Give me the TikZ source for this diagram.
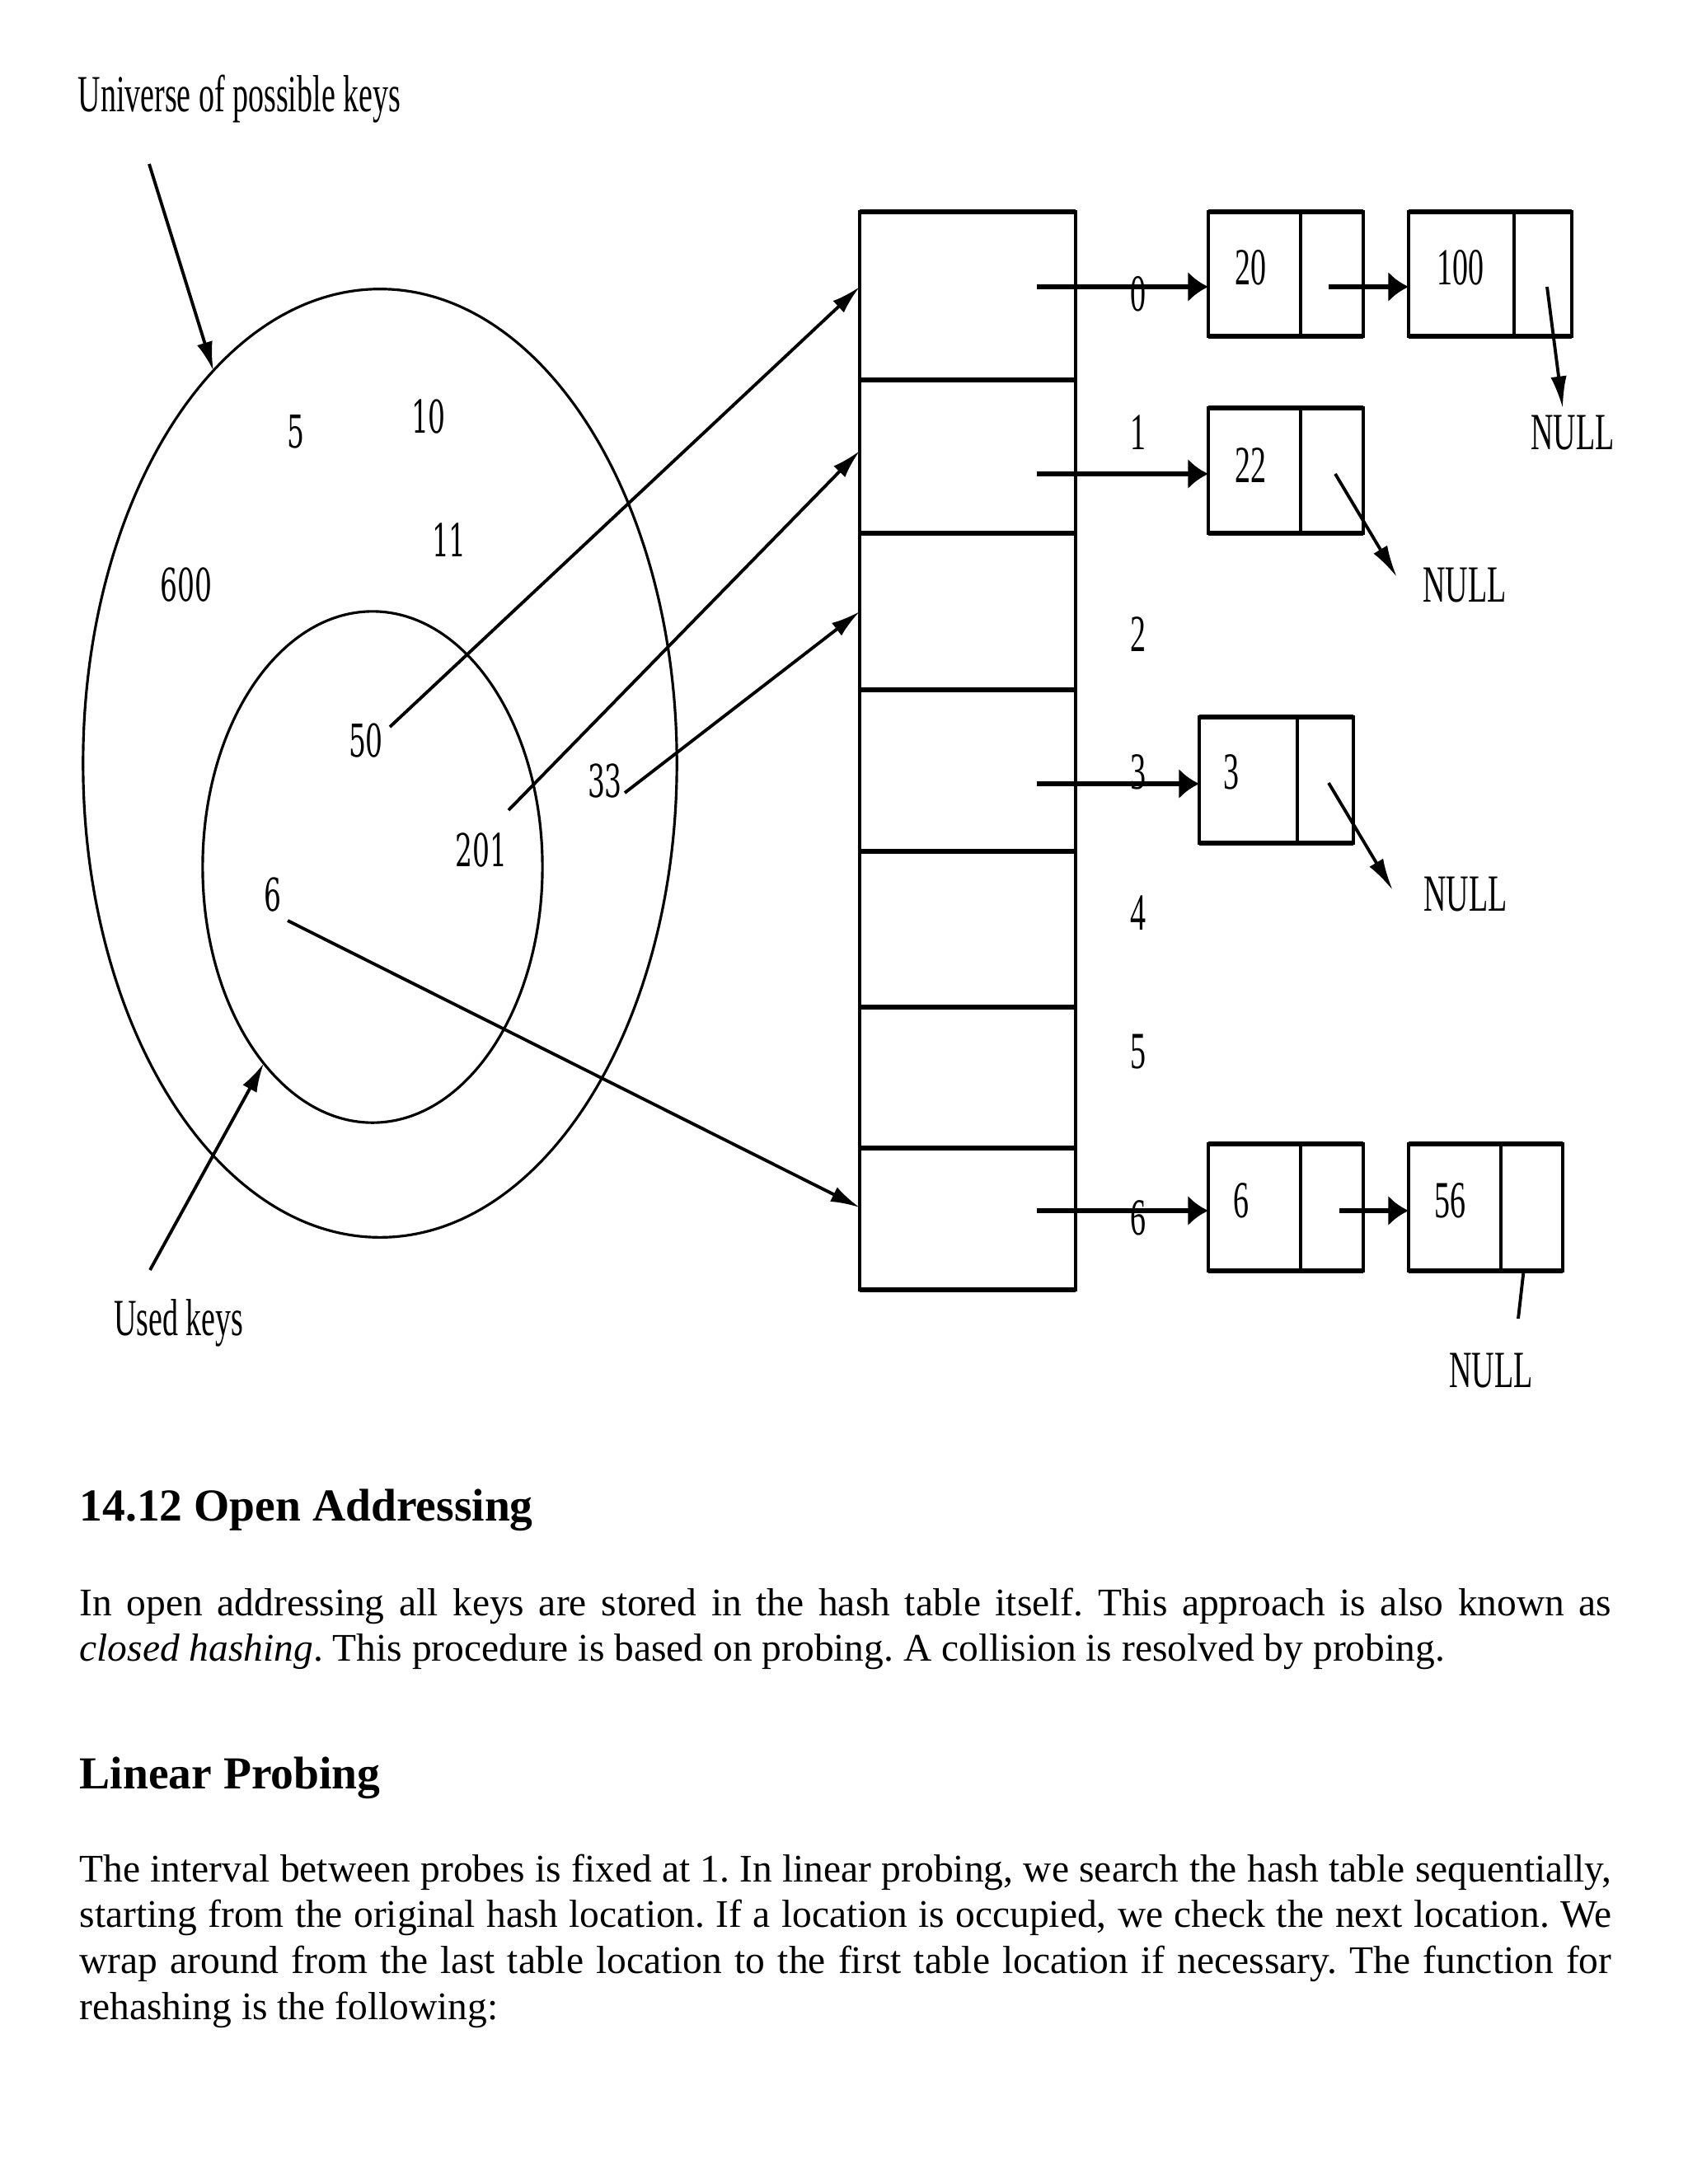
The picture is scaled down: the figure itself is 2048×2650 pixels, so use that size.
\documentclass[tikz,border=0pt]{standalone}
\usepackage{fontspec}
\setmainfont{Liberation Serif}
\newfontfamily\figfont[FakeStretch=0.6]{Liberation Serif}
\newfontfamily\numfont[FakeStretch=0.6]{DejaVu Serif}
\usetikzlibrary{arrows.meta,shapes.geometric,calc}
\frenchspacing
\begin{document}
\begin{tikzpicture}[x=0.01cm,y=-0.01cm,
  figtxt/.style={font=\figfont\fontsize{18}{20}\selectfont, inner sep=0pt},
  keytxt/.style={font=\numfont\fontsize{15.6}{18}\selectfont, inner sep=0pt},
  ring/.style={ellipse, draw, line width=0.9pt, inner sep=0pt, outer sep=0pt},
  cell/.style={rectangle, draw, line width=1pt, inner sep=0pt, outer sep=0pt, anchor=north west},
  hline/.style={line width=1.9pt},
  keyarrow/.style={line width=1.1pt, -{Latex[length=10pt,width=5.5pt]}},
  bigarrow/.style={line width=1.8pt, -{Latex[length=7pt,width=10.5pt]}},
  nullarrow/.style={line width=1.1pt, -{Latex[length=11pt,width=5.5pt]}},
  body/.style={font=\fontsize{13.5}{16}\selectfont, inner sep=0pt, anchor=base west},
  head/.style={font=\bfseries\fontsize{15.8}{19}\selectfont, inner sep=0pt, anchor=base west}
]
\fill[white] (0,0) rectangle (2048,2650);
\useasboundingbox (0,0) rectangle (2048,2650);

% ---- universe of keys ----
\node[figtxt, anchor=base west] (univ) at (94,135) {Universe of possible keys};
\node[ring, minimum width=7.2cm, minimum height=11.5cm] (outer) at (461,926) {};
\node[ring, minimum width=4.12cm, minimum height=6.2cm] (inner) at (452,1052) {};
\coordinate (u0) at (181,199);
\draw[keyarrow] (u0) -- (outer.113);
\node[figtxt] (used) at (217,1605) {Used keys};
\coordinate (w0) at (182,1541);
\draw[keyarrow] (w0) -- (inner.241);

\node[keytxt] (k5)   at (359,524)  {5};
\node[keytxt] (k10)  at (520,506)  {10};
\node[keytxt] (k11)  at (545,655)  {11};
\node[keytxt] (k600) at (226,710)  {600};
\node[keytxt] (k50n) at (444,899)  {50};
\node[keytxt] (k201n) at (584,1032) {201};
\node[keytxt] (k33n) at (734,948)  {33};
\node[keytxt] (k6n)  at (331,1086) {6};

% ---- hash table ----
\node[cell, minimum width=2.62cm, minimum height=2.04cm] (r0) at (1043,257) {};
\node[cell, minimum width=2.62cm, minimum height=1.86cm] (r1) at (1043,461) {};
\node[cell, minimum width=2.62cm, minimum height=1.90cm] (r2) at (1043,647) {};
\node[cell, minimum width=2.62cm, minimum height=1.96cm] (r3) at (1043,837) {};
\node[cell, minimum width=2.62cm, minimum height=1.89cm] (r4) at (1043,1033) {};
\node[cell, minimum width=2.62cm, minimum height=1.71cm] (r5) at (1043,1222) {};
\node[cell, minimum width=2.62cm, minimum height=1.72cm] (r6) at (1043,1393) {};
\foreach \r in {r0,r1,r2,r3,r4,r5,r6}
  \draw[hline] (\r.north west) -- (\r.north east);
\draw[hline] (r6.south west) -- (r6.south east);

% key arrows into table
\coordinate (k50) at (473,882);
\coordinate (k201) at (617,983);
\coordinate (k33) at (758,962);
\coordinate (k6) at (349,1117);
\draw[keyarrow] (k50) -- ($(r0.west)+(0,-11)$);
\draw[keyarrow] (k201) -- ($(r1.west)+(0,-7)$);
\draw[keyarrow] (k33) -- (r2.west);
\draw[keyarrow] (k6) -- ($(r6.west)+(0,-14)$);

% ---- list nodes ----
\node[cell, minimum width=1.12cm, minimum height=1.51cm] (v20) at (1466,257) {};
\node[cell, minimum width=0.76cm, minimum height=1.51cm] (p20) at (v20.north east) {};
\node[cell, minimum width=1.28cm, minimum height=1.51cm] (v100) at (1709,257) {};
\node[cell, minimum width=0.70cm, minimum height=1.51cm] (p100) at (v100.north east) {};
\node[cell, minimum width=1.12cm, minimum height=1.52cm] (v22) at (1466,495) {};
\node[cell, minimum width=0.76cm, minimum height=1.52cm] (p22) at (v22.north east) {};
\node[cell, minimum width=1.19cm, minimum height=1.53cm] (v3) at (1455,870) {};
\node[cell, minimum width=0.68cm, minimum height=1.53cm] (p3) at (v3.north east) {};
\node[cell, minimum width=1.12cm, minimum height=1.54cm] (v6) at (1466,1388) {};
\node[cell, minimum width=0.76cm, minimum height=1.54cm] (p6) at (v6.north east) {};
\node[cell, minimum width=1.12cm, minimum height=1.54cm] (v56) at (1709,1388) {};
\node[cell, minimum width=0.75cm, minimum height=1.54cm] (p56) at (v56.north east) {};
\foreach \a/\b in {v20/p20,v100/p100,v22/p22,v3/p3,v6/p6,v56/p56}{
  \draw[hline] (\a.north west) -- (\b.north east);
  \draw[hline] (\a.south west) -- (\b.south east);
}

\node[figtxt] (t20)  at (1517,325)  {20};
\node[figtxt] (t100) at (1772,325)  {100};
\node[figtxt] (t22)  at (1517,565)  {22};
\node[figtxt] (t3)   at (1494,937)  {3};
\node[figtxt] (t6)   at (1506,1457) {6};
\node[figtxt] (t56)  at (1759,1457) {56};

% index labels
\node[figtxt] (l0) at (1381,357)  {0};
\node[figtxt] (l1) at (1381,525)  {1};
\node[figtxt] (l2) at (1381,770)  {2};
\node[figtxt] (l3) at (1381,937)  {3};
\node[figtxt] (l4) at (1381,1108) {4};
\node[figtxt] (l5) at (1381,1276) {5};
\node[figtxt] (l6) at (1381,1478) {6};

% NULL labels
\node[figtxt] (null0) at (1908,525)  {NULL};
\node[figtxt] (null1) at (1777,710)  {NULL};
\node[figtxt] (null3) at (1778,1085) {NULL};
\node[figtxt] (null6) at (1809,1663) {NULL};

% table -> list arrows
\coordinate (s0) at (1258,348);
\coordinate (s1) at (1258,575);
\coordinate (s3) at (1258,951);
\coordinate (s6) at (1258,1469);
\draw[bigarrow] (s0) -- (s0 -| v20.west);
\draw[bigarrow] (s1) -- (s1 -| v22.west);
\draw[bigarrow] (s3) -- (s3 -| v3.west);
\draw[bigarrow] (s6) -- (s6 -| v6.west);
\coordinate (q20) at (1612,348);
\coordinate (q6) at (1625,1469);
\draw[bigarrow] (q20) -- (q20 -| v100.west);
\draw[bigarrow] (q6) -- (q6 -| v56.west);

% NULL pointers
\coordinate (q100) at (1877,348);
\coordinate (q22) at (1620,575);
\coordinate (q3) at (1612,950);
\coordinate (e6) at (1842,1600);
\draw[nullarrow] (q100) -- ($(null0.north)+(-12,-8)$);
\draw[nullarrow] (q22) -- ($(null1.west)+(-31,-10)$);
\draw[nullarrow] (q3) -- ($(null3.west)+(-37,-5)$);
\draw[line width=1.1pt] ($(p56.south)+(-10,0)$) -- (e6);

% ---- text ----
\node[head] (h1) at (96,1845) {14.12 Open Addressing};
\node[body] (p1a) at (96,1960) {\makebox[528.5pt][s]{In open addressing all keys are stored in the hash table itself. This approach is also known as}};
\node[body] (p1b) at (96,2015) {\textit{closed hashing}. This procedure is based on probing. A collision is resolved by probing.};
\node[head] (h2) at (96,2170) {Linear Probing};
\node[body] (p2a) at (96,2283) {\makebox[528.5pt][s]{The interval between probes is fixed at 1. In linear probing, we search the hash table sequentially,}};
\node[body] (p2b) at (96,2338) {\makebox[528.5pt][s]{starting from the original hash location. If a location is occupied, we check the next location. We}};
\node[body] (p2c) at (96,2394) {\makebox[528.5pt][s]{wrap around from the last table location to the first table location if necessary. The function for}};
\node[body] (p2d) at (96,2450) {rehashing is the following:};
\end{tikzpicture}
\end{document}
